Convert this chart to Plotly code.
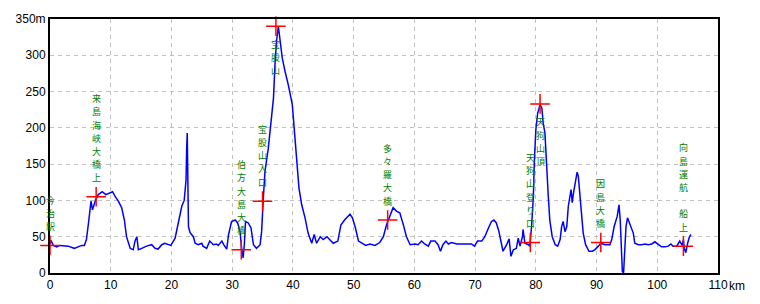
import plotly.graph_objects as go

# ---- data ----
km = [0, 0.15, 0.55, 1.1, 1.65, 2.2, 3.0, 4.0, 4.7, 5.2, 5.65, 6.0, 6.4, 6.75, 7.0, 7.3, 7.5, 7.95,
      8.6, 9.2, 9.9, 10.3, 10.7, 11.25, 11.8, 12.25, 12.6, 13.2, 13.7, 14.0, 14.3, 14.55, 15.1, 15.9,
      16.75, 17.3, 17.8, 18.4, 18.9, 19.4, 19.9, 20.6, 21.1, 21.7, 22.1, 22.4, 22.5, 22.6, 22.8, 23.05,
      23.6, 23.9, 24.4, 25.0, 25.2, 25.8, 26.3, 26.9, 27.4, 27.7, 28.3, 28.6, 29.1, 29.4, 29.9, 30.5,
      30.9, 31.3, 31.55, 31.8, 32.0, 32.2, 32.65, 33.1, 33.5, 34.0, 34.6, 34.85, 35.1, 35.4, 35.95,
      36.4, 36.8, 37.05, 37.3, 37.6, 37.9, 38.25, 38.7, 39.25, 39.9, 40.2, 40.6, 41.0, 41.45, 42.0,
      42.5, 43.1, 43.5, 43.9, 44.5, 45.0, 45.6, 46.1, 46.65, 47.4, 47.9, 48.5, 49.0, 49.4, 49.8, 50.3,
      50.8, 51.3, 52.0, 52.7, 53.5, 54.3, 54.9, 55.4, 56.0, 56.5, 57.1, 57.6, 58.2, 58.7, 59.3, 60.1,
      60.6, 61.2, 61.7, 62.3, 62.7, 63.4, 63.9, 64.3, 64.7, 65.2, 65.6, 66.1, 67.0, 67.8, 68.6, 69.4,
      69.9, 70.4, 71.1, 71.6, 72.2, 72.7, 73.1, 73.5, 73.9, 74.3, 74.6, 75.2, 75.6, 75.9, 76.3, 76.8,
      77.1, 77.4, 77.8, 77.9, 78.2, 78.8, 79.0, 79.3, 79.6, 79.75, 80.0, 80.3, 80.7, 81.0, 81.2, 81.5,
      81.8, 82.05, 82.3, 82.7, 83.2, 83.6, 84.0, 84.25, 84.5, 84.8, 85.1, 85.35, 85.8, 86.0, 86.2,
      86.6, 86.8, 87.0, 87.3, 87.6, 87.8, 88.2, 88.75, 89.3, 89.7, 90.3, 90.7, 91.4, 92.2, 92.5, 92.9,
      93.4, 93.7, 93.9, 94.0, 94.25, 94.45, 94.7, 94.85, 95.1, 95.4, 95.7, 96.05, 96.3, 96.9, 97.4,
      98.0, 98.5, 99.1, 99.6, 100.2, 100.7, 101.3, 101.8, 102.25, 102.6, 103.2, 103.7, 104.1, 104.3,
      104.45, 104.7, 105.0, 105.3, 105.55]
elev = [40, 45, 38, 36, 38, 38, 37, 34, 37, 38, 38, 46, 73, 99, 87, 96, 101, 108,
        112, 108, 110, 112, 106, 99, 90, 73, 50, 34, 32, 44, 50, 32, 34, 37,
        39, 34, 33, 39, 41, 39, 38, 48, 69, 92, 100, 128, 170, 193, 64, 56,
        50, 41, 39, 41, 37, 34, 44, 39, 40, 38, 44, 39, 33, 53, 71, 73,
        69, 57, 34, 21, 39, 71, 69, 62, 39, 34, 39, 57, 99, 140, 172,
        204, 241, 287, 319, 340, 319, 296, 278, 259, 232, 200, 149, 117, 94, 76,
        55, 41, 53, 41, 50, 46, 50, 46, 41, 44, 66, 73, 78, 81, 76, 62,
        44, 41, 38, 40, 38, 42, 50, 66, 78, 90, 85, 83, 66, 50, 39, 40,
        39, 44, 40, 37, 44, 44, 39, 30, 39, 44, 40, 42, 40, 40, 40, 40,
        37, 44, 44, 50, 62, 71, 73, 69, 58, 41, 30, 39, 47, 23, 32, 34,
        48, 37, 50, 60, 41, 39, 37, 64, 106, 152, 197, 220, 232, 227, 207, 193,
        133, 106, 73, 50, 39, 37, 46, 64, 71, 57, 64, 92, 115, 97, 110,
        133, 139, 133, 106, 78, 55, 39, 30, 30, 32, 37, 41, 39, 39, 46, 64,
        78, 94, 73, 46, 2, 0, 46, 64, 76, 69, 64, 55, 41, 39, 39,
        40, 39, 40, 43, 39, 36, 36, 37, 40, 37, 37, 44, 38, 46,
        34, 28, 41, 50, 53]

place_names = ["今治駅", "来島海峡大橋上", "伯方大島大橋", "宝股山入口", "宝股山",
               "多々羅大橋", "天狗山登り口", "天狗山頂", "因島大橋", "向島運航　船上"]
place_km = [0, 7.6, 31.5, 35.0, 37.2, 55.6, 79.1, 80.7, 90.7, 104.3]
place_elev = [38, 105, 32, 99, 340, 73, 42, 233, 42, 37]
label_below = [False, False, False, False, True, False, False, True, False, False]

x_ticks = list(range(0, 111, 10))
x_ticktext = [str(v) for v in x_ticks]
y_ticks = list(range(0, 351, 50))
y_ticktext = [str(v) for v in y_ticks[:-1]] + ["350m"]

fig = go.Figure()
fig.add_trace(go.Scatter(x=km, y=elev, mode="lines",
                         line=dict(color="#0000FF", width=1.5), hoverinfo="skip"))
fig.add_trace(go.Scatter(x=place_km, y=place_elev, mode="markers", cliponaxis=False,
                         marker=dict(symbol="cross-thin", size=14,
                                     line=dict(color="#FF0000", width=1.5)),
                         hoverinfo="skip"))

annotations = []
pitch = 13.2
fsize = 9
for name, xk, ye, below in zip(place_names, place_km, place_elev, label_below):
    n = len(name)
    for i, ch in enumerate(name):
        if ch.strip() == "":
            continue
        ys = -(18 + pitch * i) if below else 19 + pitch * (n - 1 - i)
        annotations.append(dict(
            x=xk, y=ye, xref="x", yref="y", text=ch, showarrow=False,
            xanchor="center", yanchor="middle", yshift=ys, borderpad=0,
            font=dict(family="Noto Sans CJK JP", size=fsize, color="#008000")))

annotations.append(dict(x=110, y=0, xref="x", yref="paper", text="km", showarrow=False,
                        xanchor="left", yanchor="top", xshift=9, yshift=-4,
                        font=dict(family="Liberation Sans", size=12, color="black")))

axis_common = dict(showgrid=True, gridcolor="#c0c0c0", griddash="4px,4px", gridwidth=1,
                   showline=True, mirror=True, linecolor="black", linewidth=2,
                   zeroline=False, ticks="",
                   tickfont=dict(family="Liberation Sans", size=12, color="black"))

fig.update_layout(
    width=760, height=304,
    margin=dict(l=50, r=42, t=19, b=31),
    paper_bgcolor="white", plot_bgcolor="white",
    showlegend=False,
    xaxis=dict(range=[0, 110], tickvals=x_ticks, ticktext=x_ticktext, **axis_common),
    yaxis=dict(range=[0, 350], tickvals=y_ticks, ticktext=y_ticktext, **axis_common),
    annotations=annotations,
)

fig.write_html("out.html")
